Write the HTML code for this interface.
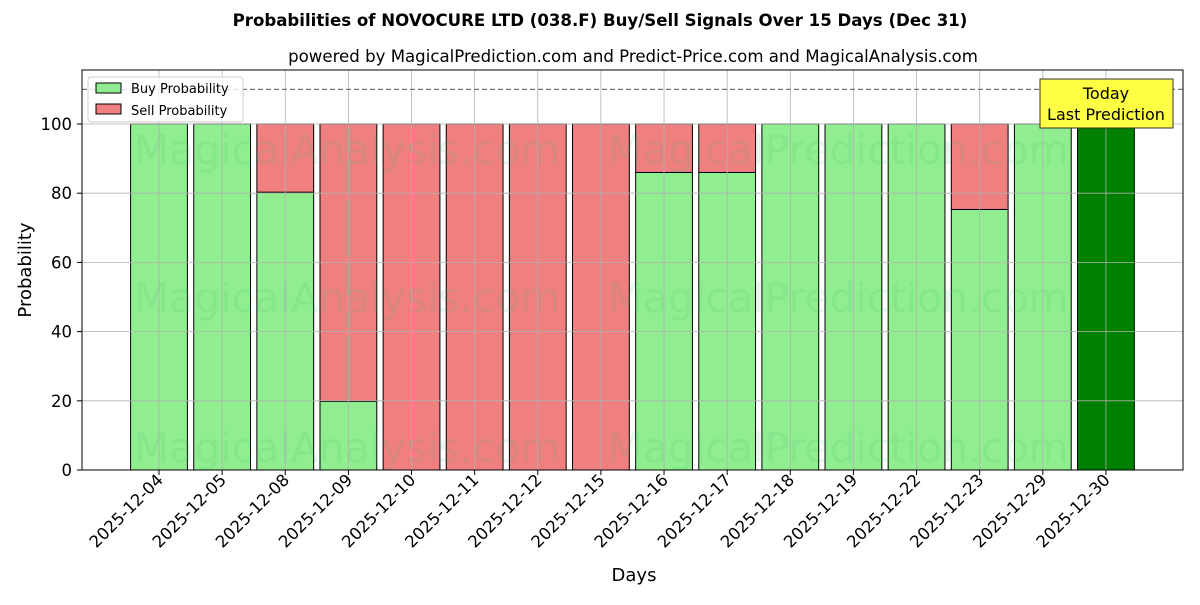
<!DOCTYPE html>
<html><head><meta charset="utf-8"><style>
body{margin:0;background:#fff;}
svg text{font-family:"DejaVu Sans","Liberation Sans",sans-serif;}
</style></head><body>
<svg id="chart" width="1200" height="600" xmlns="http://www.w3.org/2000/svg">
<text x="600" y="26" text-anchor="middle" font-size="16.6" font-weight="bold">Probabilities of NOVOCURE LTD (038.F) Buy/Sell Signals Over 15 Days (Dec 31)</text>
<text x="633" y="62" text-anchor="middle" font-size="16.6">powered by MagicalPrediction.com and Predict-Price.com and MagicalAnalysis.com</text>
<g id="bars"></g>
<g id="wm" fill="#3cb371" fill-opacity="0.12" font-size="41" text-anchor="middle">
<text x="347" y="164">MagicalAnalysis.com</text>
<text x="838" y="164">MagicalPrediction.com</text>
<text x="347" y="312">MagicalAnalysis.com</text>
<text x="838" y="312">MagicalPrediction.com</text>
<text x="347" y="462">MagicalAnalysis.com</text>
<text x="838" y="462">MagicalPrediction.com</text>
</g>
<g id="grid"></g>
<g id="axes"></g>
<rect x="82" y="70" width="1101" height="400" fill="none" stroke="#000" stroke-width="1"/>
<g>
<rect x="88" y="77" width="155" height="45" fill="#fff" fill-opacity="0.8" stroke="#ccc" rx="3"/>
<rect x="96" y="83" width="25" height="10" fill="#90ee90" stroke="#000"/>
<text x="131" y="93" font-size="13">Buy Probability</text>
<rect x="96" y="104" width="25" height="10" fill="#f08080" stroke="#000"/>
<text x="131" y="115" font-size="13">Sell Probability</text>
</g>
<g>
<rect x="1040" y="79" width="133" height="49" fill="#ffff44" stroke="#333"/>
<text x="1106" y="99" text-anchor="middle" font-size="16">Today</text>
<text x="1106" y="120" text-anchor="middle" font-size="16">Last Prediction</text>
</g>
<text x="634" y="581" text-anchor="middle" font-size="18">Days</text>
<text transform="translate(31,270) rotate(-90)" text-anchor="middle" font-size="18">Probability</text>
</svg>
<script>
const categories=["2025-12-04","2025-12-05","2025-12-08","2025-12-09","2025-12-10","2025-12-11","2025-12-12","2025-12-15","2025-12-16","2025-12-17","2025-12-18","2025-12-19","2025-12-22","2025-12-23","2025-12-29","2025-12-30"];
const buyValues=[100,100,80.3,19.8,0,0,0,0,86,86,100,100,100,75.3,100,100];
const sellValues=[0,0,19.7,80.2,100,100,100,100,14,14,0,0,0,24.7,0,0];
const yTicks=[0,20,40,60,80,100];
const refLine=110;
const NS="http://www.w3.org/2000/svg";
const y=v=>470-v*3.46;
const x=i=>159+i*63.13;
const bw=56.8;
function mk(tag,attrs,parent){const e=document.createElementNS(NS,tag);for(const k in attrs)e.setAttribute(k,attrs[k]);parent.appendChild(e);return e;}
const bars=document.getElementById('bars'),grid=document.getElementById('grid'),axes=document.getElementById('axes');
categories.forEach((c,i)=>{
  const last=i===categories.length-1;
  const b=mk('rect',{x:x(i)-bw/2,y:y(buyValues[i]),width:bw,height:y(0)-y(buyValues[i]),fill:last?'#008000':'#90ee90',stroke:'#000','stroke-width':1},bars);
  
  
  if(sellValues[i]>0){
    const s=mk('rect',{x:x(i)-bw/2,y:y(buyValues[i]+sellValues[i]),width:bw,height:y(buyValues[i])-y(buyValues[i]+sellValues[i]),fill:'#f08080',stroke:'#000','stroke-width':1},bars);
    
    
  }
  mk('line',{x1:x(i),x2:x(i),y1:70,y2:470,stroke:'#b0b0b0','stroke-width':0.8},grid);
  mk('line',{x1:x(i),x2:x(i),y1:470,y2:475,stroke:'#000'},axes);
  const t=mk('text',{transform:`translate(${x(i)+5},${481}) rotate(-45)`,'text-anchor':'end','font-size':16.5},axes);
  t.textContent=c;
  
  
});
yTicks.forEach(v=>{
  mk('line',{x1:82,x2:1183,y1:y(v),y2:y(v),stroke:'#b0b0b0','stroke-width':0.8},grid);
  mk('line',{x1:77,x2:82,y1:y(v),y2:y(v),stroke:'#000'},axes);
  const t=mk('text',{x:72,y:y(v)+6,'text-anchor':'end','font-size':16.5},axes);
  t.textContent=v;
  
  
});
const rl=mk('line',{x1:82,x2:1183,y1:y(refLine),y2:y(refLine),stroke:'#777','stroke-dasharray':'5,3','stroke-width':1.2},grid);


</script>
</body></html>
